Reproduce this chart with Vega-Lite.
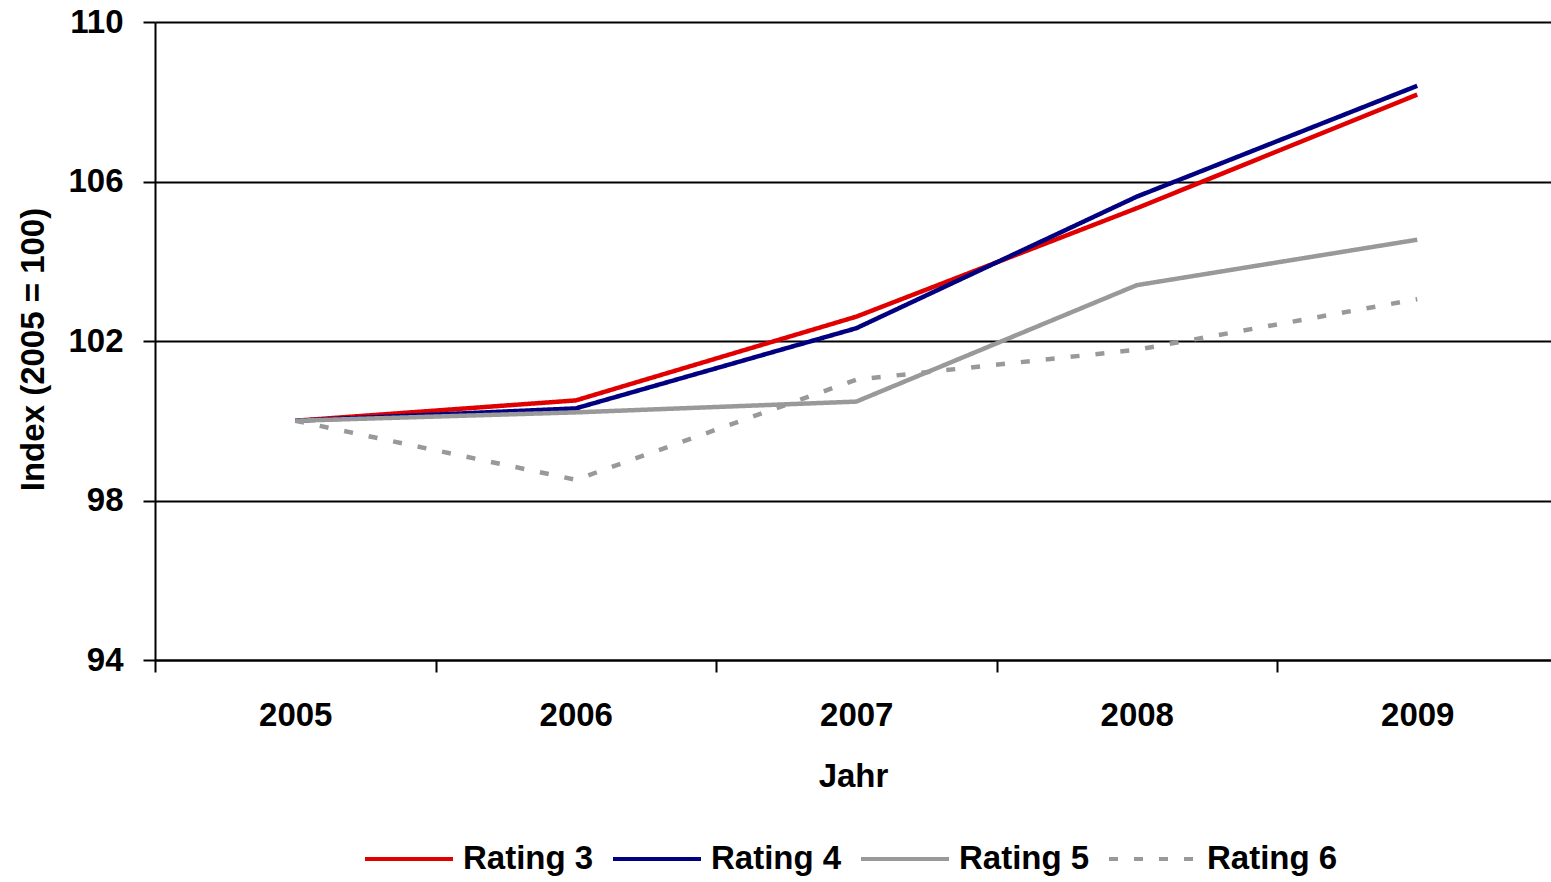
{
  "$schema": "https://vega.github.io/schema/vega-lite/v6.json",
  "width": 1396,
  "height": 638,
  "autosize": {"type": "none"},
  "padding": {"left": 155, "top": 22, "right": 0, "bottom": 222},
  "background": "white",
  "config": {
    "view": {"stroke": null},
    "font": "Liberation Sans",
    "legend": {
      "orient": "none",
      "legendX": 208,
      "legendY": 791,
      "direction": "horizontal",
      "padding": 0,
      "symbolType": "stroke",
      "symbolSize": 7744,
      "symbolStrokeWidth": 4,
      "labelFont": "Liberation Sans",
      "labelFontSize": 33,
      "labelFontWeight": "bold",
      "labelColor": "black",
      "labelOffset": 8,
      "labelLimit": 400,
      "columnPadding": 11
    }
  },
  "data": {
    "values": [
      {"Jahr": "2005", "Serie": "Rating 3", "Index": 100.0},
      {"Jahr": "2006", "Serie": "Rating 3", "Index": 100.51},
      {"Jahr": "2007", "Serie": "Rating 3", "Index": 102.61},
      {"Jahr": "2008", "Serie": "Rating 3", "Index": 105.33},
      {"Jahr": "2009", "Serie": "Rating 3", "Index": 108.18},
      {"Jahr": "2005", "Serie": "Rating 4", "Index": 100.0},
      {"Jahr": "2006", "Serie": "Rating 4", "Index": 100.31},
      {"Jahr": "2007", "Serie": "Rating 4", "Index": 102.32},
      {"Jahr": "2008", "Serie": "Rating 4", "Index": 105.62},
      {"Jahr": "2009", "Serie": "Rating 4", "Index": 108.4},
      {"Jahr": "2005", "Serie": "Rating 5", "Index": 100.0},
      {"Jahr": "2006", "Serie": "Rating 5", "Index": 100.21},
      {"Jahr": "2007", "Serie": "Rating 5", "Index": 100.48},
      {"Jahr": "2008", "Serie": "Rating 5", "Index": 103.4},
      {"Jahr": "2009", "Serie": "Rating 5", "Index": 104.54},
      {"Jahr": "2005", "Serie": "Rating 6", "Index": 100.0},
      {"Jahr": "2006", "Serie": "Rating 6", "Index": 98.52},
      {"Jahr": "2007", "Serie": "Rating 6", "Index": 101.03},
      {"Jahr": "2008", "Serie": "Rating 6", "Index": 101.78},
      {"Jahr": "2009", "Serie": "Rating 6", "Index": 103.05}
    ]
  },
  "mark": {"type": "line", "strokeWidth": 4.5, "strokeJoin": "round", "strokeCap": "butt"},
  "encoding": {
    "x": {
      "field": "Jahr",
      "type": "ordinal",
      "scale": {"type": "band", "range": [0, 1402.5], "paddingInner": 0, "paddingOuter": 0},
      "axis": {
        "title": "Jahr",
        "labelAngle": 0,
        "tickBand": "extent",
        "tickSize": 12,
        "tickWidth": 2,
        "tickColor": "black",
        "domainColor": "black",
        "domainWidth": 2,
        "grid": false,
        "labelFont": "Liberation Sans",
        "labelFontSize": 33,
        "labelFontWeight": "bold",
        "labelColor": "black",
        "labelBaseline": "top",
        "labelPadding": 27,
        "titleFont": "Liberation Sans",
        "titleFontSize": 33,
        "titleFontWeight": "bold",
        "titleColor": "black",
        "titleX": 698,
        "titleY": 116,
        "titleAlign": "center",
        "titleBaseline": "middle"
      }
    },
    "y": {
      "field": "Index",
      "type": "quantitative",
      "scale": {"domain": [94, 110], "nice": false, "zero": false},
      "axis": {
        "title": "Index (2005 = 100)",
        "values": [94, 98, 102, 106, 110],
        "grid": true,
        "gridColor": "black",
        "gridWidth": 2,
        "gridOpacity": 1,
        "tickSize": 12,
        "tickWidth": 2,
        "tickColor": "black",
        "domainColor": "black",
        "domainWidth": 2,
        "labelFont": "Liberation Sans",
        "labelFontSize": 33,
        "labelFontWeight": "bold",
        "labelColor": "black",
        "labelPadding": 20,
        "titleFont": "Liberation Sans",
        "titleFontSize": 33,
        "titleFontWeight": "bold",
        "titleColor": "black",
        "titleX": -122,
        "titleY": 327,
        "titleAngle": 270,
        "titleAlign": "center",
        "titleBaseline": "middle"
      }
    },
    "color": {
      "field": "Serie",
      "type": "nominal",
      "scale": {
        "domain": ["Rating 3", "Rating 4", "Rating 5", "Rating 6"],
        "range": ["#E00000", "#000080", "#999999", "#999999"]
      },
      "legend": {"title": null}
    },
    "strokeDash": {
      "field": "Serie",
      "type": "nominal",
      "scale": {
        "domain": ["Rating 3", "Rating 4", "Rating 5", "Rating 6"],
        "range": [[1, 0], [1, 0], [1, 0], [9, 16]]
      },
      "legend": {"title": null}
    }
  }
}
